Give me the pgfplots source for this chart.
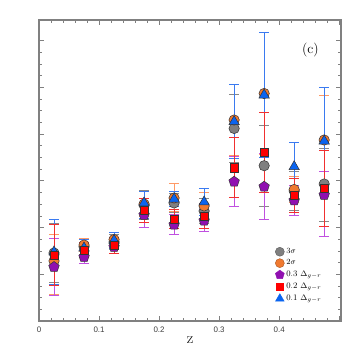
\documentclass[border=0pt]{standalone}
\usepackage{fontspec}
\usepackage{pgfplots}
\pgfplotsset{compat=1.18}
\newfontfamily\sansf{Liberation Sans}
\definecolor{cgray}{HTML}{7F7F7F}
\definecolor{cgrayE}{HTML}{888888}
\definecolor{corange}{HTML}{F07A30}
\definecolor{corangeE}{HTML}{FF9A66}
\definecolor{cpurple}{HTML}{9010B0}
\definecolor{cpurpleE}{HTML}{C050E0}
\definecolor{cred}{HTML}{FF0000}
\definecolor{credE}{HTML}{F03030}
\definecolor{cblue}{HTML}{0A64F0}
\definecolor{cblueE}{HTML}{3A7AF0}
\definecolor{framec}{HTML}{808080}

\pgfplotstableread{
x y ep em
0.025 1.456 0.64 0.64
0.075 1.591 0.17 0.17
0.125 1.692 0.17 0.17
0.175 2.484 0.32 0.32
0.225 2.527 0.21 0.21
0.275 2.355 0.26 0.26
0.325 4.122 0.73 0.73
0.375 3.325 0.87 0.87
0.425 2.784 0.41 0.41
0.475 2.934 0.76 0.81
}\tgray
\pgfplotstableread{
x y ep em
0.025 1.285 0.57 0.72
0.075 1.627 0.13 0.13
0.125 1.745 0.15 0.15
0.175 2.505 0.26 0.26
0.225 2.634 0.30 0.30
0.275 2.463 0.28 0.28
0.325 4.304 0.75 0.75
0.375 4.872 1.30 1.30
0.425 2.816 0.28 0.28
0.475 3.876 0.95 0.95
}\torange
\pgfplotstableread{
x y ep em
0.025 1.156 0.61 0.61
0.075 1.370 0.135 0.135
0.125 1.585 0.13 0.13
0.175 2.270 0.26 0.26
0.225 2.062 0.21 0.21
0.275 2.148 0.23 0.23
0.325 2.983 0.54 0.54
0.375 2.876 0.71 0.71
0.425 2.580 0.32 0.32
0.475 2.698 0.50 0.89
}\tpurple
\pgfplotstableread{
x y ep em
0.025 1.413 0.66 0.66
0.075 1.520 0.17 0.17
0.125 1.617 0.18 0.18
0.175 2.366 0.26 0.26
0.225 2.184 0.21 0.21
0.275 2.242 0.27 0.27
0.325 3.283 0.64 0.64
0.375 3.612 0.86 0.86
0.425 2.687 0.36 0.36
0.475 2.842 0.81 0.81
}\tred
\pgfplotstableread{
x y ep em
0.025 1.478 0.70 0.70
0.075 1.563 0.18 0.18
0.125 1.724 0.17 0.17
0.175 2.527 0.25 0.34
0.225 2.612 0.17 0.17
0.275 2.548 0.28 0.28
0.325 4.268 0.79 0.79
0.375 4.839 1.33 1.33
0.425 3.304 0.52 0.52
0.475 3.854 1.14 1.14
}\tblue

\pgfplotsset{
  ebar/.style={
    only marks,
    error bars/y dir=both, error bars/y explicit,
    error bars/error bar style={line width=0.9bp, color=#1},
    error bars/error mark options={rotate=90, mark size=5bp, line width=1bp, color=#1},
  },
}

\begin{document}
\begin{tikzpicture}
\path[use as bounding box] (-39bp,-39bp) rectangle (321bp,321bp);
\begin{axis}[
  scale only axis, width=302bp, height=301bp,
  xmin=0, xmax=0.503, ymin=0, ymax=6.445,
  xtick={0,0.1,0.2,0.3,0.4,0.5}, xticklabels={0,0.1,0.2,0.3,0.4,{}},
  minor x tick num=4,
  ytick={0,1,2,3,4,5,6}, yticklabels={},
  minor y tick num=3,
  tick align=inside,
  major tick length=5bp, minor tick length=3bp,
  axis line style={framec, line width=1.2bp},
  every tick/.style={framec, line width=0.8bp},
  xticklabel style={font=\sansf\fontsize{8}{8}\selectfont, text=black!75, yshift=-2bp},
  xlabel={z}, xlabel style={font=\fontsize{16}{16}\selectfont, yshift=2bp},
  legend cell align=left,
  legend style={draw=none, fill=none, at={(rel axis cs:0.772,0.255)}, anchor=north west,
    font=\fontsize{8.5}{9}\selectfont, row sep=0.8bp},
]
\addplot[ebar=cgrayE, mark=*, mark size=5.2bp, mark options={fill=cgray, draw=black!80, line width=0.5bp}, forget plot]
  table[x=x, y=y, y error plus=ep, y error minus=em] {\tgray};
\addplot[ebar=corangeE, mark=*, mark size=5.2bp, mark options={fill=corange, draw=black!80, line width=0.5bp}, forget plot]
  table[x=x, y=y, y error plus=ep, y error minus=em] {\torange};
\addplot[ebar=cpurpleE, mark=pentagon*, mark size=5.5bp, mark options={fill=cpurple, draw=black!80, line width=0.5bp}, forget plot]
  table[x=x, y=y, y error plus=ep, y error minus=em] {\tpurple};
\addplot[ebar=cblueE, mark=triangle*, mark size=6bp, mark options={fill=cblue, draw=black!80, line width=0.5bp}, forget plot]
  table[x=x, y=y, y error plus=ep, y error minus=em] {\tblue};
\addplot[ebar=credE, mark=square*, mark size=4.2bp, mark options={fill=cred, draw=black!80, line width=0.5bp}, forget plot]
  table[x=x, y=y, y error plus=ep, y error minus=em] {\tred};

\addlegendimage{only marks, mark=*, mark size=4.5bp, mark options={fill=cgray, draw=cgray!70!black, line width=0.4bp}}
\addlegendentry{$3\sigma$}
\addlegendimage{only marks, mark=*, mark size=4.5bp, mark options={fill=corange, draw=corange!70!black, line width=0.4bp}}
\addlegendentry{$2\sigma$}
\addlegendimage{only marks, mark=pentagon*, mark size=4.7bp, mark options={fill=cpurple, draw=cpurple, line width=0.4bp}}
\addlegendentry{0.3 $\Delta_{g-r}$}
\addlegendimage{only marks, mark=square*, mark size=3.5bp, mark options={fill=cred, draw=cred, line width=0.4bp}}
\addlegendentry{0.2 $\Delta_{g-r}$}
\addlegendimage{only marks, mark=triangle*, mark size=5bp, mark options={fill=cblue, draw=cblue, line width=0.4bp}}
\addlegendentry{0.1 $\Delta_{g-r}$}

\node[font=\fontsize{14}{14}\selectfont] at (axis cs:0.452,5.80) {(c)};
\end{axis}
\end{tikzpicture}
\end{document}
